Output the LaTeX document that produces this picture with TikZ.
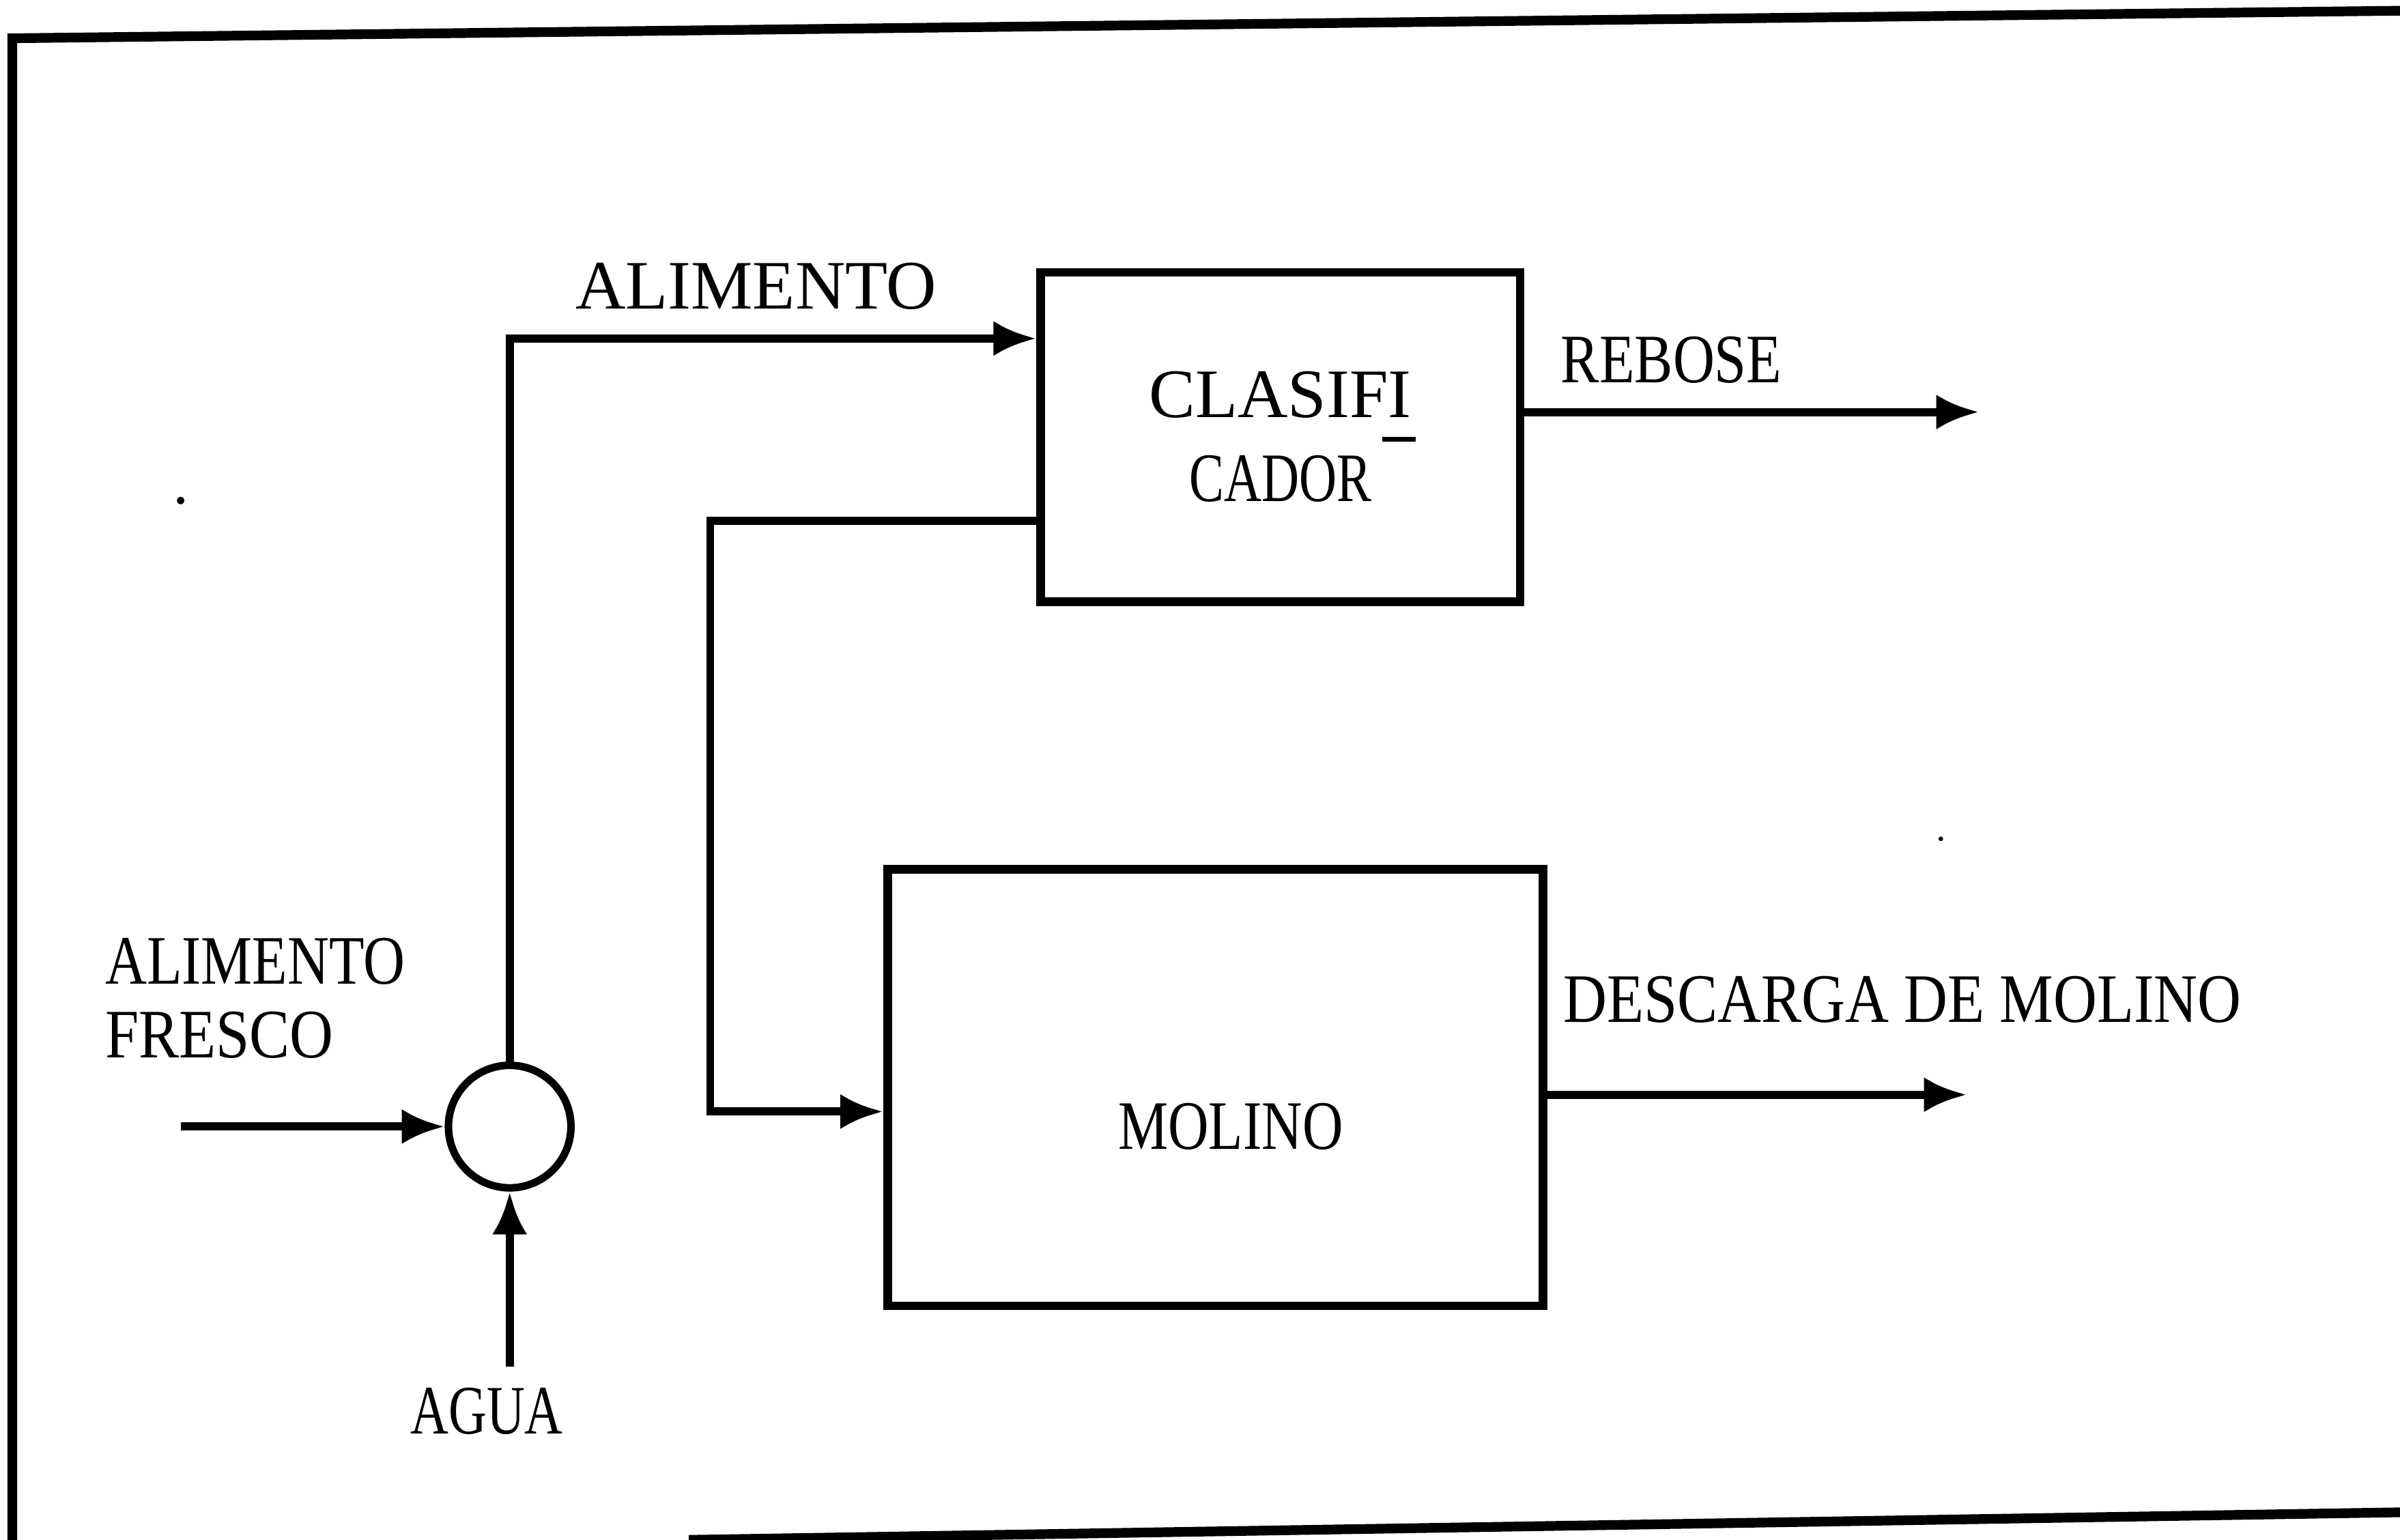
\documentclass[tikz,border=0pt]{standalone}
\usepackage{fontspec}
\setmainfont{Liberation Serif}
\usetikzlibrary{arrows.meta}
\newcommand{\hsx}[2]{\scalebox{#1}[1]{#2}}
\begin{document}
\begin{tikzpicture}[x=0.01cm,y=-0.01cm,
  lbl/.style={inner sep=0pt, font=\fontsize{12.9}{13.7}\selectfont},
  unit/.style={draw, line width=1.6pt, inner sep=0pt, font=\fontsize{12.9}{15.6}\selectfont},
  flow/.style={line width=1.5pt, -{Latex[length=2.8mm,width=2.3mm]}},
  framestyle/.style={line width=1.8pt}]
\useasboundingbox (0,0) rectangle (1568,1006);
% outer frame
\draw[framestyle] (1568,7) -- (8,25) -- (8,1006);
\draw[framestyle] (450,1006) -- (1568,988);
% units
\node[unit, minimum width=3.13cm, minimum height=2.15cm, align=center] (clas) at (836.5,285.5)
  {CLASIFI\\[0pt]\hsx{0.75}{CADOR}};
\draw[line width=1pt] (903,287) -- (925,287);
\node[unit, minimum width=4.28cm, minimum height=2.85cm] (mol) at (794,710.5) {};
\node[lbl] (mollbl) at (804,736) {\hsx{0.81}{MOLINO}};
\node[draw, circle, line width=1.4pt, minimum size=0.8cm, inner sep=0pt] (mix) at (333,736) {};
% free ends
\coordinate (fin) at (118,736);
\coordinate (agua0) at (333,893);
\coordinate (ret) at (464,343);
\coordinate (rebend) at (1293,272);
\coordinate (descend) at (1285,718);
% connectors
\draw[flow] (fin) -- (mix.west);
\draw[flow] (agua0) -- (mix.south);
\draw[flow] (mix.north) |- ([yshift=-0.46cm]clas.north west);
\draw[flow] ([yshift=-1.65cm]clas.north west) -- ([yshift=-1.65cm]clas.north west -| ret) |- ([yshift=-1.61cm]mol.north west);
\draw[flow] ([yshift=-0.94cm]clas.north east) -- ([yshift=-0.94cm]clas.north east -| rebend);
\draw[flow] ([yshift=-1.5cm]mol.north east) -- ([yshift=-1.5cm]mol.north east -| descend);
% labels
\node[lbl] (lalim) at (494,187) {ALIMENTO};
\node[lbl] (lreb) at (1092,235) {\hsx{0.83}{REBOSE}};
\node[lbl] (ldesc) at (1243,653) {\hsx{0.87}{DESCARGA DE MOLINO}};
\node[lbl, align=left, anchor=west] (lfresco) at (68,652) {\hsx{0.83}{ALIMENTO}\\\hsx{0.87}{FRESCO}};
\node[lbl] (lagua) at (318,922) {\hsx{0.76}{AGUA}};
% specks
\fill (118,327) circle (0.025cm);
\fill (1268,548) circle (0.015cm);
\end{tikzpicture}
\end{document}
